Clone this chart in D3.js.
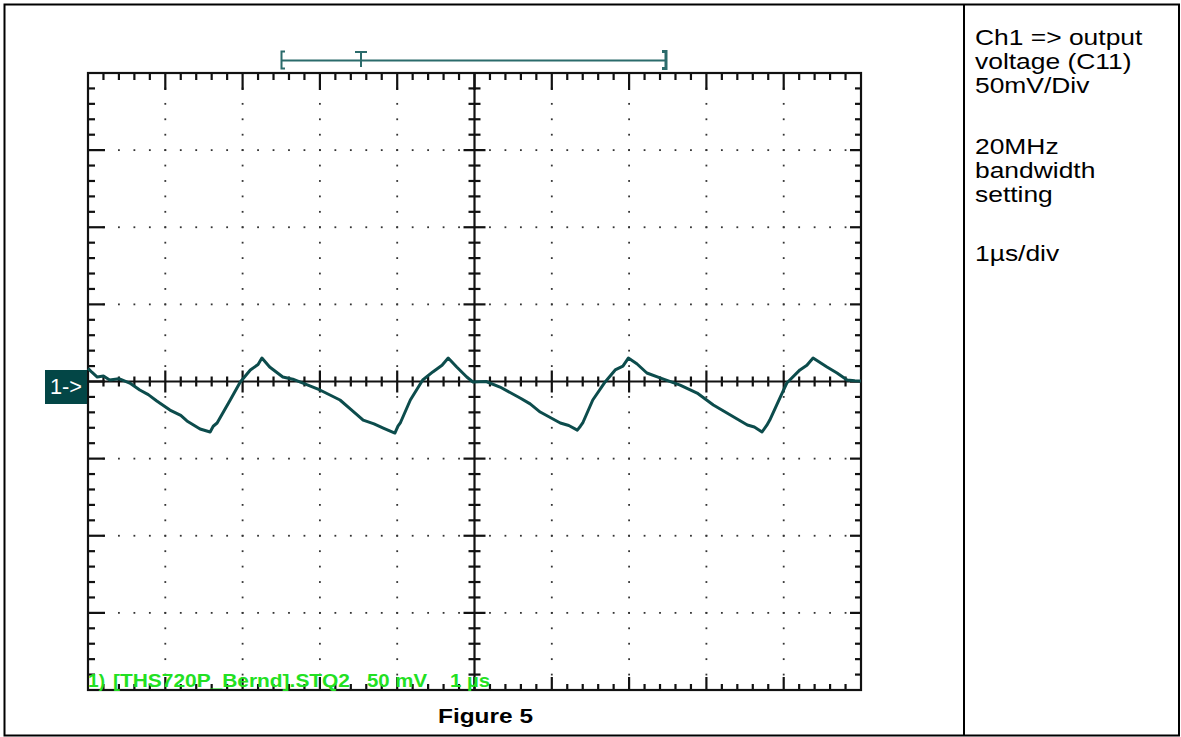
<!DOCTYPE html>
<html><head><meta charset="utf-8">
<script src="https://cdn.jsdelivr.net/npm/d3@7"></script>
<style>body{margin:0;background:#fff} svg{display:block}</style>
</head><body>
<svg id="c" width="1181" height="737"></svg>
<script>
// ---- data ----
const timeUs = [-5.00,-4.95,-4.88,-4.80,-4.72,-4.60,-4.46,-4.33,-4.22,-4.11,-3.94,-3.80,-3.72,-3.55,-3.42,-3.38,-3.33,-3.16,-3.03,-2.90,-2.80,-2.75,-2.65,-2.48,-2.35,-2.22,-2.00,-1.74,-1.60,-1.44,-1.30,-1.18,-1.03,-0.99,-0.96,-0.83,-0.67,-0.54,-0.42,-0.34,-0.23,-0.10,-0.02,0.15,0.33,0.59,0.72,0.85,1.11,1.22,1.33,1.37,1.40,1.53,1.69,1.82,1.92,1.99,2.10,2.23,2.40,2.66,2.88,3.09,3.31,3.53,3.62,3.72,3.78,3.82,3.95,4.04,4.21,4.30,4.38,4.56,4.69,4.82,4.92,5.00];
const voltageMv = [8.5,6.0,2.9,3.5,1.0,1.8,-1.0,-5.5,-8.5,-12.6,-18.5,-22.0,-25.6,-30.8,-32.7,-29.0,-26.9,-12.0,-0.3,7.5,11.0,15.2,9.4,2.9,1.5,-1.0,-5.5,-12.0,-18.0,-25.0,-27.5,-30.2,-33.4,-29.0,-26.9,-12.0,1.0,6.2,10.5,15.2,9.4,2.9,-0.3,0.0,-3.6,-10.7,-14.5,-19.8,-26.9,-28.5,-31.5,-29.0,-26.9,-12.0,-0.3,7.5,10.0,15.2,11.5,5.5,2.3,-2.3,-7.5,-15.2,-21.7,-28.2,-29.5,-32.7,-28.5,-25.0,-10.7,-1.0,7.5,10.5,15.2,9.4,5.5,1.0,0.5,0.3];
const divisionsX = 10, divisionsY = 8, minorPerDiv = 5;
const timePerDivUs = 1, voltsPerDivMv = 50;
const markerLabel = "1->";
const scopeLabel = ["1)", "[THS720P_Bernd].STQ2", "50 mV", "1 µs"];
const infoLines = [["Ch1 => output", "voltage (C11)", "50mV/Div"], ["20MHz", "bandwidth", "setting"], ["1µs/div"]];
const caption = "Figure 5";

// ---- layout ----
const svg = d3.select("#c");
const L = 88, R = 861, T = 73, B = 690;
const halfX = divisionsX / 2 * timePerDivUs, halfY = divisionsY / 2 * voltsPerDivMv;
const x = d3.scaleLinear().domain([-halfX, halfX]).range([L, R]);
const y = d3.scaleLinear().domain([-halfY, halfY]).range([B, T]);
const ink = "#111";
const font = "Arial, 'Liberation Sans', sans-serif";

// outer table border + divider
svg.append("rect").attr("x", 4.5).attr("y", 4.5).attr("width", 1174.5).attr("height", 731)
  .attr("fill", "none").attr("stroke", "#000").attr("stroke-width", 2);
svg.append("line").attr("x1", 964).attr("x2", 964).attr("y1", 4).attr("y2", 736)
  .attr("stroke", "#000").attr("stroke-width", 2);

const g = svg.append("g");
const nX = divisionsX * minorPerDiv, nY = divisionsY * minorPerDiv;
const xv = i => -halfX + i * timePerDivUs / minorPerDiv;
const yv = j => -halfY + j * voltsPerDivMv / minorPerDiv;

// dots on major grid lines
const dots = [];
for (let i = 1; i < nX; i++) {
  if (i % minorPerDiv === 0 && i !== nX / 2) {
    for (let j = 1; j < nY; j++) if (j !== nY / 2) dots.push([x(xv(i)), y(yv(j))]);
  }
}
for (let j = 1; j < nY; j++) {
  if (j % minorPerDiv === 0 && j !== nY / 2) {
    for (let i = 1; i < nX; i++) if (i !== nX / 2) dots.push([x(xv(i)), y(yv(j))]);
  }
}
g.selectAll("rect.dot").data(dots).join("rect").attr("class", "dot")
  .attr("x", d => d[0] - 0.9).attr("y", d => d[1] - 0.9).attr("width", 1.8).attr("height", 1.8)
  .attr("fill", "#333");

// frame
g.append("rect").attr("x", L).attr("y", T).attr("width", R - L).attr("height", B - T)
  .attr("fill", "none").attr("stroke", ink).attr("stroke-width", 2.2);

const segs = [];
for (let i = 1; i < nX; i++) {
  const px = x(xv(i)), major = i % minorPerDiv === 0;
  segs.push([px, T, px, T + (major ? 17 : 7)]);
  segs.push([px, B, px, B - (major ? 13 : 6)]);
  if (i !== nX / 2) { const h = major ? 11 : 5; segs.push([px, y(0) - h, px, y(0) + h]); }
}
for (let j = 1; j < nY; j++) {
  const py = y(yv(j)), major = j % minorPerDiv === 0;
  segs.push([L, py, L + (major ? 17 : 7), py]);
  segs.push([R, py, R - (major ? 11 : 6), py]);
  if (j !== nY / 2) { const h = major ? 11 : 6; segs.push([x(0) - h, py, x(0) + h, py]); }
}
segs.push([L, y(0), R, y(0)]);
segs.push([x(0), T, x(0), B]);
g.selectAll("line.tk").data(segs).join("line").attr("class", "tk")
  .attr("x1", d => d[0]).attr("y1", d => d[1]).attr("x2", d => d[2]).attr("y2", d => d[3])
  .attr("stroke", ink).attr("stroke-width", 2.2);

// trigger/record bracket on top
const bc = "#2b6b6b";
const bracket = svg.append("g").attr("stroke", bc).attr("stroke-width", 2).attr("fill", "none");
bracket.append("line").attr("x1", 281).attr("x2", 666).attr("y1", 60.5).attr("y2", 60.5);
bracket.append("path").attr("d", "M285,51.5 H281.5 V68.5 H285");
bracket.append("path").attr("d", "M355,52 H367 M361,52 V67");
bracket.append("path").attr("d", "M662,51.5 H666 V68.5 H662").attr("stroke-width", 3);

// trace
const line = d3.line().x((d, i) => x(timeUs[i])).y(d => y(d));
svg.append("path").datum(voltageMv).attr("d", line).attr("fill", "none")
  .attr("stroke", "#0c4c4c").attr("stroke-width", 3).attr("stroke-linejoin", "round");

// channel marker
svg.append("rect").attr("x", 45).attr("y", 370).attr("width", 42).attr("height", 34).attr("fill", "#034646");
svg.append("text").attr("x", 50).attr("y", 394).attr("fill", "#fff")
  .attr("font-family", font).attr("font-size", 22)
  .attr("textLength", 32).attr("lengthAdjust", "spacingAndGlyphs").text(markerLabel);

// green scope label
const lblPos = [[88, 17], [113, 237], [367, 60], [450, 40]];
svg.selectAll("text.sl").data(scopeLabel).join("text").attr("class", "sl")
  .attr("x", (d, i) => lblPos[i][0]).attr("y", 687)
  .attr("textLength", (d, i) => lblPos[i][1]).attr("lengthAdjust", "spacingAndGlyphs")
  .attr("fill", "#22e022").attr("font-family", font)
  .attr("font-weight", "bold").attr("font-size", 19).text(d => d);

// caption
svg.append("text").attr("x", 438).attr("y", 723).attr("font-family", font)
  .attr("font-weight", "bold").attr("font-size", 21).attr("textLength", 95)
  .attr("lengthAdjust", "spacingAndGlyphs").attr("fill", "#000").text(caption);

// right-hand notes
const paraTop = [45, 154, 261], lh = 24;
infoLines.forEach((para, p) => {
  para.forEach((ln, k) => {
    const t = svg.append("text").attr("x", 975).attr("y", paraTop[p] + k * lh)
      .attr("font-family", font).attr("font-size", 22)
      .attr("fill", "#000").text(ln);
    const w = t.node().getComputedTextLength();
    t.attr("textLength", w * 1.2).attr("lengthAdjust", "spacingAndGlyphs");
  });
});
</script>
</body></html>
